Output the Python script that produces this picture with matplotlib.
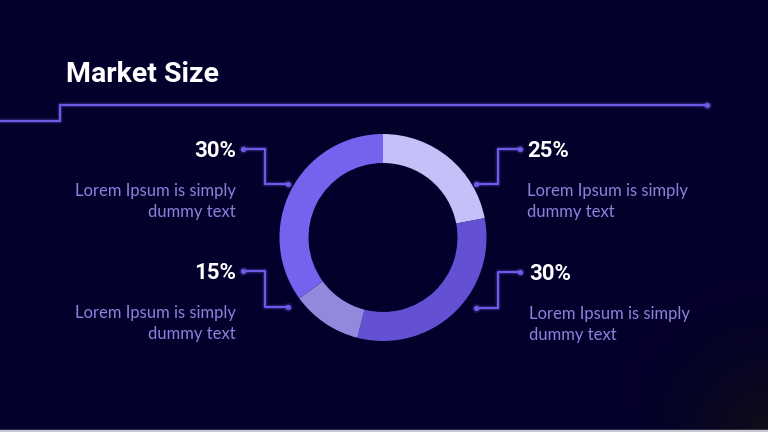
import matplotlib
matplotlib.use("Agg")
import matplotlib.pyplot as plt
import numpy as np

# データ
pct_labels = ["25%", "30%", "15%", "30%"]      # 右上, 右下, 左下, 左上
slice_shares = [22, 32, 11, 35]                 # 見た目のリング比率
slice_colors = ["#c5c0f8", "#6450d2", "#9189dc", "#7463ec"]
desc_text = "Lorem Ipsum is simply\ndummy text"
title = "Market Size"

BG = "#04002c"
LINE = "#6b5be6"
DESC = "#8c82dc"
HEAD = ["Roboto", "DejaVu Sans"]

fig = plt.figure(figsize=(7.68, 4.32), dpi=100)
ax = fig.add_axes([0, 0, 1, 1])
ax.set_xlim(0, 768)
ax.set_ylim(432, 0)
ax.axis("off")

# 背景（右下が少し暗くなるグラデーション）
yy, xx = np.mgrid[0:432, 0:768]
d = np.hypot(xx - 768, yy - 432)
t = np.clip(1 - d / 160, 0, 1) ** 1.5
c0 = np.array([4, 0, 44]) / 255
c1 = np.array([14, 14, 24]) / 255
img = c0[None, None, :] * (1 - t[..., None]) + c1[None, None, :] * t[..., None]
ax.imshow(img, extent=[0, 768, 432, 0], zorder=0, aspect="auto")
ax.axhspan(430, 432, color="#c8c8d2", zorder=1)


def glow_line(xs, ys, lw=1.5):
    for w, a in [(4.5, 0.1), (3, 0.2)]:
        ax.plot(xs, ys, color=LINE, lw=w, alpha=a, solid_capstyle="butt", zorder=2)
    ax.plot(xs, ys, color=LINE, lw=lw, solid_capstyle="butt", zorder=3)


def dot(x, y):
    ax.plot(x, y, "o", color=LINE, ms=3.8, mew=0, zorder=4)
    ax.plot(x, y, "o", color=LINE, ms=6.5, mew=0, alpha=0.2, zorder=3)


# ヘッダーの線
glow_line([0, 60, 60, 707], [121, 121, 105, 105])
dot(707, 105)

ax.text(66, 75, title, color="white", fontsize=20.5, fontweight="bold",
        family=HEAD, va="center", ha="left")

# ドーナツ
cx, cy, R, W = 383, 237.5, 103.5, 29
ax.pie(slice_shares, colors=slice_colors, startangle=-90, counterclock=True,
       radius=R, center=(cx, cy), frame=True,
       wedgeprops=dict(width=W, linewidth=0))
ax.set_xlim(0, 768)
ax.set_ylim(432, 0)
ax.axis("off")

# 引き出し線とラベル
conn = [
    # (dot近 x, y, 折れ x, label y, dot遠 x, label, ha, text x)
    (476, 184, 498, 149, 520, pct_labels[0], "left", 527),
    (476, 308, 498, 272, 520, pct_labels[1], "left", 529),
    (288, 307, 265, 271, 243, pct_labels[2], "right", 236),
    (288, 184, 265, 149, 243, pct_labels[3], "right", 236),
]
for x0, y0, xm, y1, x1, lab, ha, tx in conn:
    glow_line([x0, xm, xm, x1], [y0, y0, y1, y1])
    dot(x0, y0)
    dot(x1, y1)
    ax.text(tx, y1 + 2, lab, color="white", fontsize=16, fontweight="bold",
            family=HEAD, ha=ha, va="center")
    ax.text(tx, y1 + 34, desc_text, color=DESC, fontsize=12, family="Lato",
            ha=ha, va="top", multialignment=ha, linespacing=1.4)

fig.savefig("out.png", dpi=100, facecolor=BG)
